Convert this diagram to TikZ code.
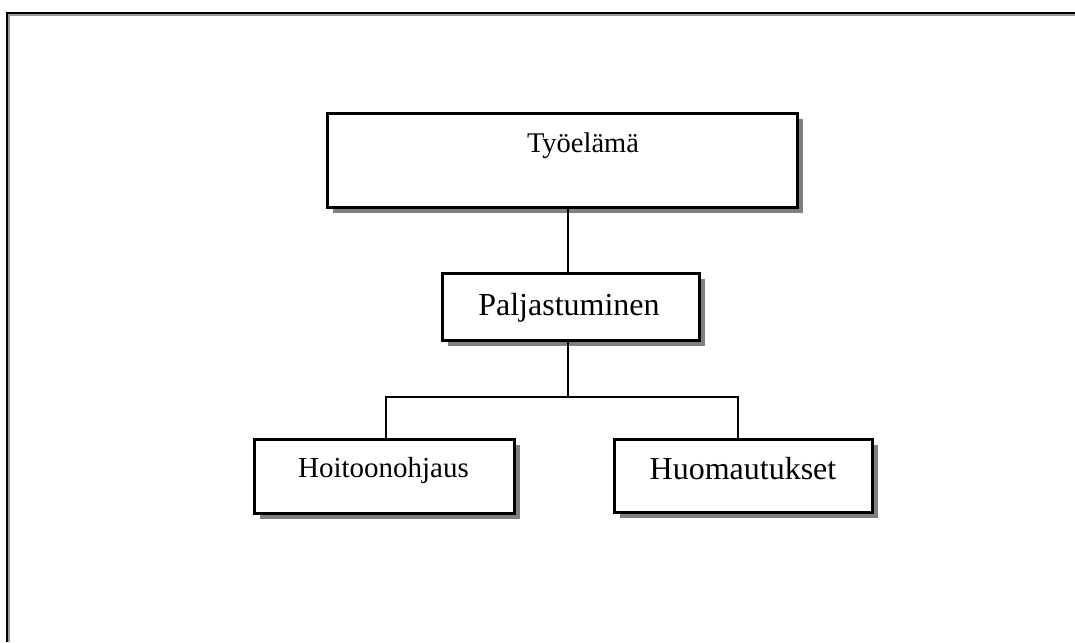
\documentclass[tikz,border=0pt]{standalone}
\usepackage{fontspec}
\setmainfont{Liberation Serif}
\usetikzlibrary{shadows}
\begin{document}
\begin{tikzpicture}[x=1pt,y=-1pt,
  boxst/.style={draw=black, line width=2.5pt, fill=white, inner sep=0pt, outer sep=0pt,
    drop shadow={shadow xshift=5.5pt, shadow yshift=-5.5pt, fill=black!50, opacity=1}},
  lbl/.style={anchor=base, inner sep=0pt},
  conn/.style={draw=black, line width=2.2pt}]
\useasboundingbox (0,0) rectangle (1075,642);
% outer frame
\draw[black!40, line width=1.5pt] (9,642) -- (9,15) -- (1075,15);
\draw[black, line width=2.2pt] (7,642) -- (7,13) -- (1075,13);
% boxes
\node[boxst, minimum width=470pt, minimum height=94pt] (b1) at (562.5,160.5) {};
\node[boxst, minimum width=257pt, minimum height=67pt] (b2) at (571,307) {};
\node[boxst, minimum width=260pt, minimum height=74pt] (b3) at (384.5,476.5) {};
\node[boxst, minimum width=258pt, minimum height=73pt] (b4) at (743.5,476) {};
% labels
\node[lbl, font=\fontsize{28.5}{30}\selectfont] (t1) at (583,152) {Työelämä};
\node[lbl, font=\fontsize{32}{34}\selectfont] (t2) at (569,315) {Paljastuminen};
\node[lbl, font=\fontsize{29}{31}\selectfont] (t3) at (383.5,477) {Hoitoonohjaus};
\node[lbl, font=\fontsize{32}{34}\selectfont] (t4) at (743,479) {Huomautukset};
% connectors
\coordinate (j) at (568,397);
\coordinate (hl) at (386,397);
\coordinate (hr) at (738,397);
\draw[conn] (j |- b1.south) -- (j |- b2.north);
\draw[conn] (j |- b2.south) -- (j);
\draw[conn] (hl |- b3.north) -- (hl) -- (hr) -- (hr |- b4.north);
\end{tikzpicture}
\end{document}
